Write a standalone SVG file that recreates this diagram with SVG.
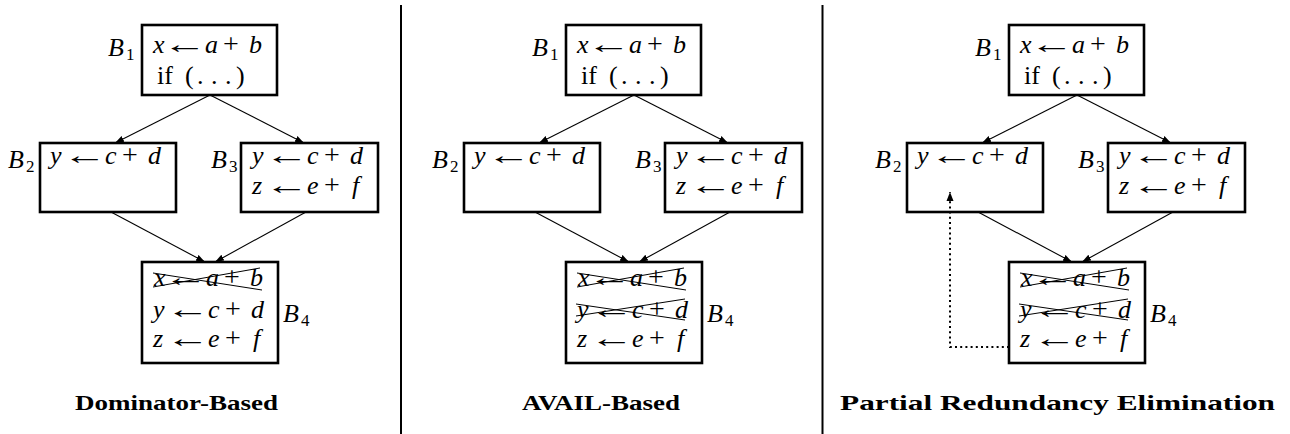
<svg xmlns="http://www.w3.org/2000/svg" width="1290" height="434" viewBox="0 0 1290 434">
<defs>
<style>
.box{fill:none;stroke:#000;stroke-width:2.6}
.m{font-family:"Liberation Serif",serif;font-style:italic;font-size:26px;fill:#000}
.r{font-family:"Liberation Serif",serif;font-style:normal;font-size:26px;fill:#000}
.arr{font-family:"Liberation Serif",serif;font-style:normal;font-size:26px;fill:#000;text-anchor:middle}
.pl{font-family:"Liberation Serif",serif;font-style:normal;font-size:28px}
.sub{font-family:"Liberation Serif",serif;font-style:normal;font-size:17px}
.edge{stroke:#000;stroke-width:1.1;fill:none;marker-end:url(#ah)}
.dot{stroke:#000;stroke-width:2;fill:none;stroke-dasharray:2 3.2;marker-end:url(#ah2)}
.x{stroke:#000;stroke-width:1;fill:none}
.sep{stroke:#000;stroke-width:2}
.cap{font-family:"Liberation Serif",serif;font-weight:bold;font-size:22px;fill:#000}
</style>
<marker id="ah" markerUnits="userSpaceOnUse" markerWidth="10" markerHeight="8" refX="9" refY="4" orient="auto">
<path d="M0,0.8 L9,4 L0,7.2 Z" fill="#000"/>
</marker>
<marker id="ah2" markerUnits="userSpaceOnUse" markerWidth="10" markerHeight="8" refX="9" refY="4" orient="auto">
<path d="M0,0.5 L9,4 L0,7.5 Z" fill="#000"/>
</marker>
</defs>
<rect width="1290" height="434" fill="#fff"/>

<g id="separators">
<line class="sep" x1="401" y1="5" x2="401" y2="434"/>
<line class="sep" x1="822.5" y1="5" x2="822.5" y2="434"/>
</g>

<!-- Panel 1 -->
<g id="panel1">
<g id="connectors1">
<line class="edge" x1="210" y1="95" x2="115" y2="143"/>
<line class="edge" x1="210" y1="95" x2="304" y2="143"/>
<line class="edge" x1="111" y1="212" x2="205" y2="262"/>
<line class="edge" x1="306" y1="212" x2="215" y2="262"/>
</g>
<g id="p1-B1">
<rect class="box" x="142" y="25" width="135" height="70"/>
<text class="m" y="53"><tspan x="153">x</tspan><tspan x="205">a</tspan><tspan class="pl" x="223">+</tspan><tspan x="249">b</tspan></text>
<text class="arr" transform="translate(185,53) scale(1.7,1)">←</text>
<text class="r" y="84"><tspan x="157">if</tspan><tspan x="185">(</tspan><tspan x="197">.</tspan><tspan x="211">.</tspan><tspan x="225">.</tspan><tspan x="236">)</tspan></text>
<text class="m" y="56"><tspan x="108">B</tspan><tspan class="sub" x="126" dy="4">1</tspan></text>
</g>
<g id="p1-B2">
<rect class="box" x="40" y="143" width="136" height="69"/>
<text class="m" y="164"><tspan x="50">y</tspan><tspan x="105">c</tspan><tspan class="pl" x="122">+</tspan><tspan x="148">d</tspan></text>
<text class="arr" transform="translate(85,164) scale(1.7,1)">←</text>
<text class="m" y="168"><tspan x="8">B</tspan><tspan class="sub" x="26" dy="4">2</tspan></text>
</g>
<g id="p1-B3">
<rect class="box" x="241" y="143" width="137" height="69"/>
<text class="m" y="164"><tspan x="252">y</tspan><tspan x="307">c</tspan><tspan class="pl" x="324">+</tspan><tspan x="350">d</tspan></text>
<text class="arr" transform="translate(287,164) scale(1.7,1)">←</text>
<text class="m" y="194"><tspan x="252">z</tspan><tspan x="307">e</tspan><tspan class="pl" x="324">+</tspan><tspan x="352">f</tspan></text>
<text class="arr" transform="translate(287,194) scale(1.7,1)">←</text>
<text class="m" y="168"><tspan x="211">B</tspan><tspan class="sub" x="229" dy="4">3</tspan></text>
</g>
<g id="p1-B4">
<rect class="box" x="142" y="262" width="136" height="101"/>
<text class="m" y="286"><tspan x="154">x</tspan><tspan x="206">a</tspan><tspan class="pl" x="224">+</tspan><tspan x="250">b</tspan></text>
<text class="arr" transform="translate(186,286) scale(1.7,1)">←</text>
<line class="x" x1="153" y1="273" x2="262" y2="290"/>
<line class="x" x1="153" y1="287" x2="260" y2="268"/>
<text class="m" y="318"><tspan x="153">y</tspan><tspan x="208">c</tspan><tspan class="pl" x="225">+</tspan><tspan x="251">d</tspan></text>
<text class="arr" transform="translate(188,318) scale(1.7,1)">←</text>
<text class="m" y="347"><tspan x="153">z</tspan><tspan x="208">e</tspan><tspan class="pl" x="225">+</tspan><tspan x="253">f</tspan></text>
<text class="arr" transform="translate(188,347) scale(1.7,1)">←</text>
<text class="m" y="322"><tspan x="283">B</tspan><tspan class="sub" x="301" dy="4">4</tspan></text>
</g>
<text class="cap" x="75" y="410" textLength="203" lengthAdjust="spacingAndGlyphs">Dominator-Based</text>
</g>

<!-- Panel 2 -->
<g id="panel2" transform="translate(424,0)">
<g id="connectors2">
<line class="edge" x1="210" y1="95" x2="115" y2="143"/>
<line class="edge" x1="210" y1="95" x2="304" y2="143"/>
<line class="edge" x1="111" y1="212" x2="205" y2="262"/>
<line class="edge" x1="306" y1="212" x2="215" y2="262"/>
</g>
<g id="p2-B1">
<rect class="box" x="142" y="25" width="135" height="70"/>
<text class="m" y="53"><tspan x="153">x</tspan><tspan x="205">a</tspan><tspan class="pl" x="223">+</tspan><tspan x="249">b</tspan></text>
<text class="arr" transform="translate(185,53) scale(1.7,1)">←</text>
<text class="r" y="84"><tspan x="157">if</tspan><tspan x="185">(</tspan><tspan x="197">.</tspan><tspan x="211">.</tspan><tspan x="225">.</tspan><tspan x="236">)</tspan></text>
<text class="m" y="56"><tspan x="108">B</tspan><tspan class="sub" x="126" dy="4">1</tspan></text>
</g>
<g id="p2-B2">
<rect class="box" x="40" y="143" width="136" height="69"/>
<text class="m" y="164"><tspan x="50">y</tspan><tspan x="105">c</tspan><tspan class="pl" x="122">+</tspan><tspan x="148">d</tspan></text>
<text class="arr" transform="translate(85,164) scale(1.7,1)">←</text>
<text class="m" y="168"><tspan x="8">B</tspan><tspan class="sub" x="26" dy="4">2</tspan></text>
</g>
<g id="p2-B3">
<rect class="box" x="241" y="143" width="137" height="69"/>
<text class="m" y="164"><tspan x="252">y</tspan><tspan x="307">c</tspan><tspan class="pl" x="324">+</tspan><tspan x="350">d</tspan></text>
<text class="arr" transform="translate(287,164) scale(1.7,1)">←</text>
<text class="m" y="194"><tspan x="252">z</tspan><tspan x="307">e</tspan><tspan class="pl" x="324">+</tspan><tspan x="352">f</tspan></text>
<text class="arr" transform="translate(287,194) scale(1.7,1)">←</text>
<text class="m" y="168"><tspan x="211">B</tspan><tspan class="sub" x="229" dy="4">3</tspan></text>
</g>
<g id="p2-B4">
<rect class="box" x="142" y="262" width="136" height="101"/>
<text class="m" y="286"><tspan x="154">x</tspan><tspan x="206">a</tspan><tspan class="pl" x="224">+</tspan><tspan x="250">b</tspan></text>
<text class="arr" transform="translate(186,286) scale(1.7,1)">←</text>
<line class="x" x1="153" y1="273" x2="262" y2="290"/>
<line class="x" x1="153" y1="287" x2="260" y2="268"/>
<text class="m" y="318"><tspan x="153">y</tspan><tspan x="208">c</tspan><tspan class="pl" x="225">+</tspan><tspan x="251">d</tspan></text>
<text class="arr" transform="translate(188,318) scale(1.7,1)">←</text>
<line class="x" x1="152" y1="304" x2="261" y2="320"/>
<line class="x" x1="152" y1="316" x2="261" y2="299"/>
<text class="m" y="347"><tspan x="153">z</tspan><tspan x="208">e</tspan><tspan class="pl" x="225">+</tspan><tspan x="253">f</tspan></text>
<text class="arr" transform="translate(188,347) scale(1.7,1)">←</text>
<text class="m" y="322"><tspan x="283">B</tspan><tspan class="sub" x="301" dy="4">4</tspan></text>
</g>
<text class="cap" x="98" y="410" textLength="158" lengthAdjust="spacingAndGlyphs">AVAIL-Based</text>
</g>

<!-- Panel 3 -->
<g id="panel3" transform="translate(867,0)">
<g id="connectors3">
<line class="edge" x1="210" y1="95" x2="115" y2="143"/>
<line class="edge" x1="210" y1="95" x2="304" y2="143"/>
<line class="edge" x1="111" y1="212" x2="205" y2="262"/>
<line class="edge" x1="306" y1="212" x2="215" y2="262"/>
<polyline class="dot" points="142,347 83,347 83,192"/>
</g>
<g id="p3-B1">
<rect class="box" x="142" y="25" width="135" height="70"/>
<text class="m" y="53"><tspan x="153">x</tspan><tspan x="205">a</tspan><tspan class="pl" x="223">+</tspan><tspan x="249">b</tspan></text>
<text class="arr" transform="translate(185,53) scale(1.7,1)">←</text>
<text class="r" y="84"><tspan x="157">if</tspan><tspan x="185">(</tspan><tspan x="197">.</tspan><tspan x="211">.</tspan><tspan x="225">.</tspan><tspan x="236">)</tspan></text>
<text class="m" y="56"><tspan x="108">B</tspan><tspan class="sub" x="126" dy="4">1</tspan></text>
</g>
<g id="p3-B2">
<rect class="box" x="40" y="143" width="136" height="69"/>
<text class="m" y="164"><tspan x="50">y</tspan><tspan x="105">c</tspan><tspan class="pl" x="122">+</tspan><tspan x="148">d</tspan></text>
<text class="arr" transform="translate(85,164) scale(1.7,1)">←</text>
<text class="m" y="168"><tspan x="8">B</tspan><tspan class="sub" x="26" dy="4">2</tspan></text>
</g>
<g id="p3-B3">
<rect class="box" x="241" y="143" width="137" height="69"/>
<text class="m" y="164"><tspan x="252">y</tspan><tspan x="307">c</tspan><tspan class="pl" x="324">+</tspan><tspan x="350">d</tspan></text>
<text class="arr" transform="translate(287,164) scale(1.7,1)">←</text>
<text class="m" y="194"><tspan x="252">z</tspan><tspan x="307">e</tspan><tspan class="pl" x="324">+</tspan><tspan x="352">f</tspan></text>
<text class="arr" transform="translate(287,194) scale(1.7,1)">←</text>
<text class="m" y="168"><tspan x="211">B</tspan><tspan class="sub" x="229" dy="4">3</tspan></text>
</g>
<g id="p3-B4">
<rect class="box" x="142" y="262" width="136" height="101"/>
<text class="m" y="286"><tspan x="154">x</tspan><tspan x="206">a</tspan><tspan class="pl" x="224">+</tspan><tspan x="250">b</tspan></text>
<text class="arr" transform="translate(186,286) scale(1.7,1)">←</text>
<line class="x" x1="153" y1="273" x2="262" y2="290"/>
<line class="x" x1="153" y1="287" x2="260" y2="268"/>
<text class="m" y="318"><tspan x="153">y</tspan><tspan x="208">c</tspan><tspan class="pl" x="225">+</tspan><tspan x="251">d</tspan></text>
<text class="arr" transform="translate(188,318) scale(1.7,1)">←</text>
<line class="x" x1="152" y1="304" x2="261" y2="320"/>
<line class="x" x1="152" y1="316" x2="261" y2="299"/>
<text class="m" y="347"><tspan x="153">z</tspan><tspan x="208">e</tspan><tspan class="pl" x="225">+</tspan><tspan x="253">f</tspan></text>
<text class="arr" transform="translate(188,347) scale(1.7,1)">←</text>
<text class="m" y="322"><tspan x="283">B</tspan><tspan class="sub" x="301" dy="4">4</tspan></text>
</g>
<text class="cap" x="-27" y="410" textLength="435" lengthAdjust="spacingAndGlyphs">Partial Redundancy Elimination</text>
</g>
</svg>
